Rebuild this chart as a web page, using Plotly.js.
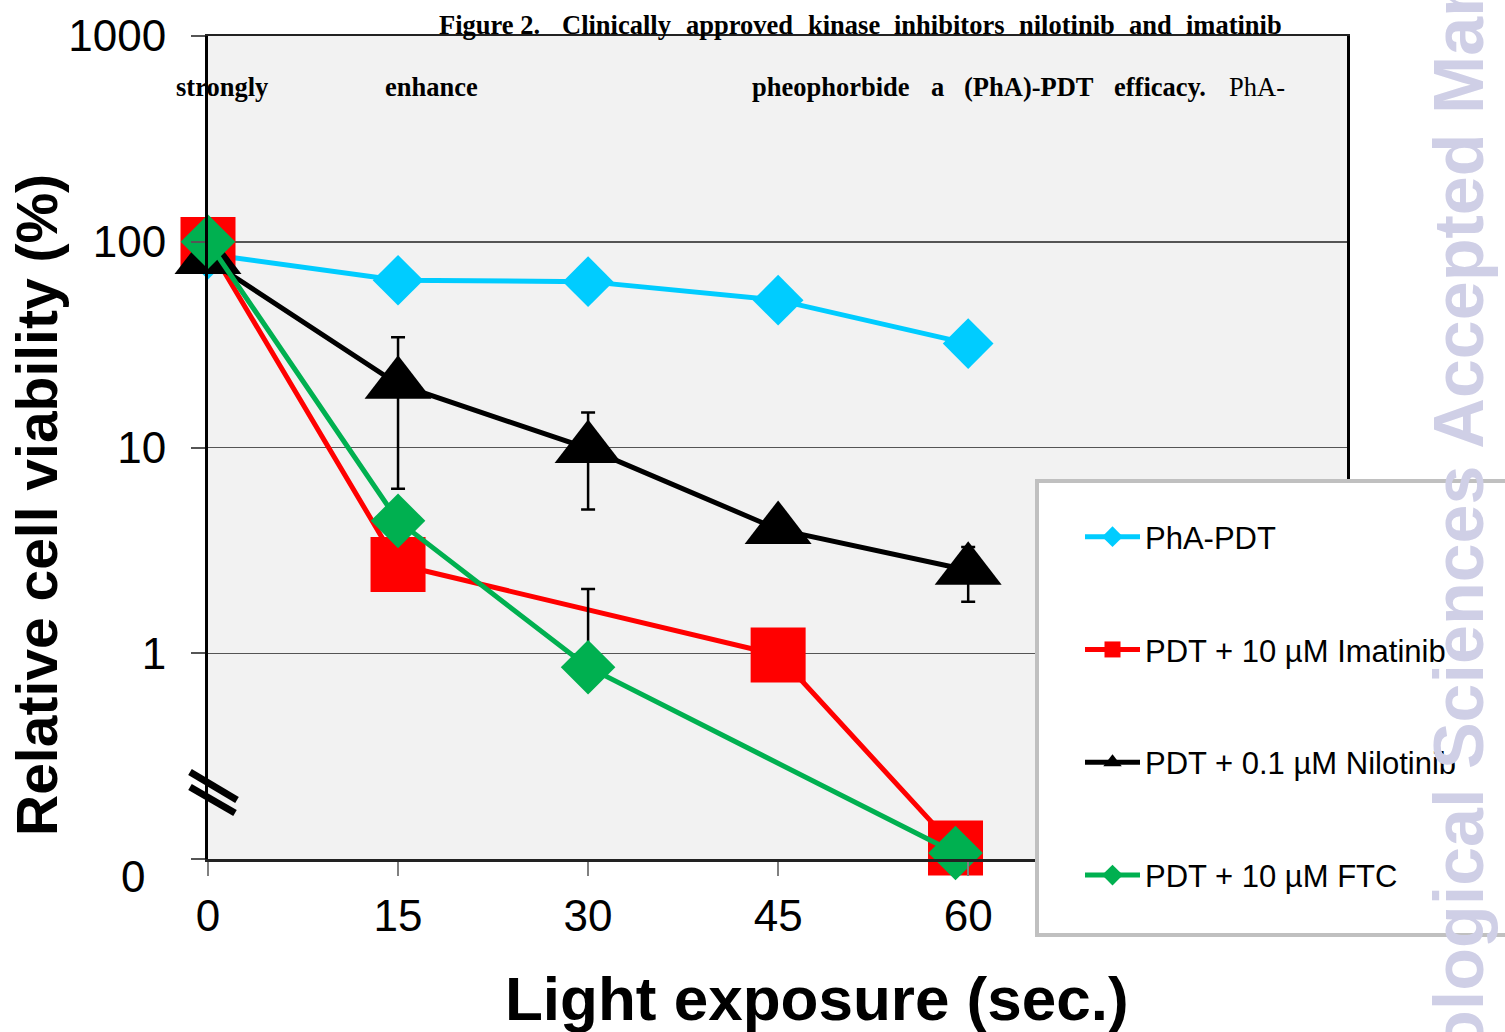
<!DOCTYPE html>
<html>
<head>
<meta charset="utf-8">
<script src="https://cdn.plot.ly/plotly-3.0.1.min.js"></script>
<style>html,body{margin:0;padding:0;background:#fff;}#chart{width:1505px;height:1032px;}</style>
</head>
<body>
<div id="chart"></div>
<script>
// ---- data ----
const xTimes = [0, 15, 30, 45, 60];
const xTicks = [0, 15, 30, 45, 60];
const yTickVals = [0.1, 1, 10, 100, 1000];
const yTickText = ['', '1', '10', '100', '1000'];
const yZeroLabel = '0';

const phaPdt = [87, 65, 64, 52, 32];

const imatinibX = [0, 15, 45, 59];
const imatinib = [97, 2.7, 0.98, 0.113];

const nilotinib = [82, 20.3, 9.9, 4.0, 2.53];
const nilotinibErr = [0, 14, 4.9, 0, 0.75];

const ftcX = [0, 15, 30, 59];
const ftc = [100, 4.4, 0.855, 0.107];
const ftcErrPlus = [0, 0, 1.2, 0];
const ftcErrMinus = [0, 0, 0, 0];

const seriesNames = ['PhA-PDT', 'PDT + 10 µM Imatinib', 'PDT + 0.1 µM Nilotinib', 'PDT + 10 µM FTC'];

const titleLine1 = ['Figure 2.', 'Clinically', 'approved', 'kinase', 'inhibitors', 'nilotinib', 'and', 'imatinib'];
const titleLine2 = ['strongly', 'enhance', 'pheophorbide', 'a', '(PhA)-PDT', 'efficacy.', 'PhA-'];
const watermark = 'ological Sciences Accepted Man';

// ---- layout helpers (pixel -> paper) ----
const L = 208, R = 1347, T = 36, B = 859;
const fx = p => (p - L) / (R - L);
const fy = p => (B - p) / (B - T);

const line1X = [437, 560, 684, 806, 892, 1017, 1127, 1184];
const line2X = [174, 383, 750, 929, 962, 1112, 1227];

const traces = [
  {
    x: xTimes, y: phaPdt, name: seriesNames[0], type: 'scatter', mode: 'lines+markers',
    legendgroup: 'a', cliponaxis: false,
    line: {color: '#00ccff', width: 5},
    marker: {symbol: 'diamond', size: 39, color: '#00ccff'}
  },
  {
    x: imatinibX, y: imatinib, name: seriesNames[1], type: 'scatter', mode: 'lines+markers',
    legendgroup: 'b', cliponaxis: false,
    line: {color: '#ff0000', width: 5},
    marker: {symbol: 'square', size: 55, color: '#ff0000'}
  },
  {
    x: xTimes, y: nilotinib, name: seriesNames[2], type: 'scatter', mode: 'lines+markers',
    legendgroup: 'c', cliponaxis: false,
    line: {color: '#000000', width: 5},
    marker: {symbol: 'triangle-up', size: 58, color: '#000000'},
    error_y: {type: 'data', array: nilotinibErr, visible: true, color: '#000', thickness: 2.5, width: 7}
  },
  {
    x: ftcX, y: ftc, name: seriesNames[3], type: 'scatter', mode: 'lines+markers',
    legendgroup: 'd', cliponaxis: false,
    line: {color: '#00b050', width: 5},
    marker: {symbol: 'diamond', size: 42, color: '#00b050'},
    error_y: {type: 'data', symmetric: false, array: ftcErrPlus, arrayminus: ftcErrMinus, visible: true, color: '#000', thickness: 2.5, width: 7}
  }
];

const annotations = [];
titleLine1.forEach((w, i) => annotations.push({
  xref: 'paper', yref: 'paper', x: fx(line1X[i]), y: fy(25), xanchor: 'left', yanchor: 'middle',
  text: '<b>' + w + '</b>', showarrow: false,
  font: {family: 'Liberation Serif, Times New Roman, serif', size: 26.5, color: '#000'}
}));
titleLine2.forEach((w, i) => annotations.push({
  xref: 'paper', yref: 'paper', x: fx(line2X[i]), y: fy(87), xanchor: 'left', yanchor: 'middle',
  text: i === titleLine2.length - 1 ? w : '<b>' + w + '</b>', showarrow: false,
  font: {family: 'Liberation Serif, Times New Roman, serif', size: 26.5, color: '#000'}
}));
annotations.push({
  xref: 'paper', yref: 'paper', x: fx(133), y: fy(876), xanchor: 'center', yanchor: 'middle',
  text: yZeroLabel, showarrow: false,
  font: {family: 'Liberation Sans, Arial, sans-serif', size: 44, color: '#000'}
});
annotations.push({
  xref: 'paper', yref: 'paper', x: fx(817), y: fy(998), xanchor: 'center', yanchor: 'middle',
  text: '<b>Light exposure (sec.)</b>', showarrow: false,
  font: {family: 'Liberation Sans, Arial, sans-serif', size: 62, color: '#000'}
});
annotations.push({
  xref: 'paper', yref: 'paper', x: fx(37), y: fy(505), xanchor: 'center', yanchor: 'middle',
  text: '<b>Relative cell viability (%)</b>', textangle: -90, showarrow: false,
  font: {family: 'Liberation Sans, Arial, sans-serif', size: 57, color: '#000'}
});
annotations.push({
  xref: 'paper', yref: 'paper', x: fx(1459), y: fy(514), xanchor: 'center', yanchor: 'middle',
  text: '<b>' + watermark + '</b>', textangle: -90, showarrow: false,
  font: {family: 'Liberation Sans, Arial, sans-serif', size: 70, color: '#cfcfe6'}
});

const shapes = [
  {type: 'rect', xref: 'paper', yref: 'paper', x0: fx(1037), x1: fx(1545), y0: fy(935), y1: fy(481),
   line: {color: '#c0c0c0', width: 4}, fillcolor: '#ffffff', layer: 'above'},
  {type: 'line', xref: 'paper', yref: 'paper', x0: fx(190), y0: fy(772), x1: fx(237), y1: fy(800),
   line: {color: '#000', width: 7}, layer: 'above'},
  {type: 'line', xref: 'paper', yref: 'paper', x0: fx(190), y0: fy(787), x1: fx(235), y1: fy(813),
   line: {color: '#000', width: 7}, layer: 'above'}
];

const layout = {
  width: 1505, height: 1032,
  margin: {l: L, r: 1505 - R, t: T, b: 1032 - B, pad: 0},
  paper_bgcolor: '#ffffff', plot_bgcolor: '#f2f2f2',
  showlegend: true,
  font: {family: 'Liberation Sans, Arial, sans-serif', color: '#000'},
  xaxis: {
    range: [0, 89.9], tickvals: xTicks, ticktext: xTicks.map(String),
    ticks: 'outside', ticklen: 14, tickwidth: 2, tickcolor: '#808080',
    ticklabelstandoff: 3,
    tickfont: {size: 44, color: '#000'},
    showgrid: false, zeroline: false,
    showline: true, linecolor: '#222', linewidth: 2.5, mirror: true
  },
  yaxis: {
    type: 'log', range: [-1, 3], tickvals: yTickVals, ticktext: yTickText,
    ticks: 'outside', ticklen: 14, tickwidth: 2, tickcolor: '#555',
    ticklabelstandoff: 16,
    tickfont: {size: 44, color: '#000'},
    showgrid: true, gridcolor: '#555', gridwidth: 1.5, zeroline: false,
    showline: true, linecolor: '#000', linewidth: 3, mirror: true
  },
  legend: {
    x: fx(1080), y: fy(510), xanchor: 'left', yanchor: 'top',
    bgcolor: 'rgba(0,0,0,0)', borderwidth: 0,
    font: {size: 31, color: '#000', family: 'Liberation Sans, Arial, sans-serif'},
    itemwidth: 55, itemsizing: 'trace', tracegroupgap: 69.5, traceorder: 'grouped'
  },
  shapes: shapes,
  annotations: annotations
};

Plotly.newPlot('chart', traces, layout, {displayModeBar: false, staticPlot: true});
</script>
</body>
</html>
